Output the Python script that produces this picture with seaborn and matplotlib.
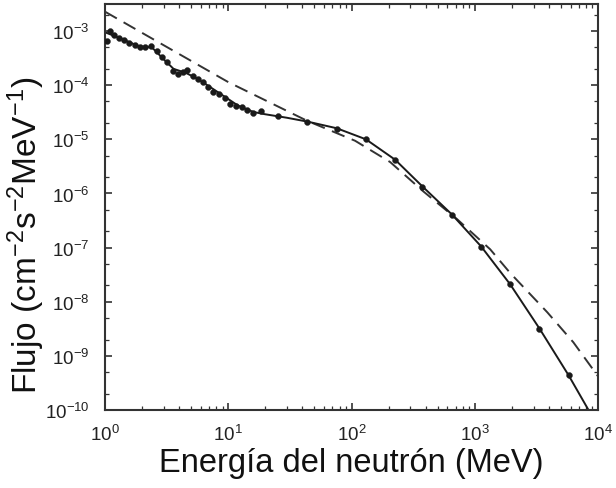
import matplotlib
matplotlib.use("Agg")
import matplotlib.pyplot as plt
import matplotlib.ticker as mticker
import seaborn as sns
import pandas as pd

# --- data ---
dot_E = [1.04, 1.098, 1.183, 1.306, 1.434, 1.575, 1.752, 1.923, 2.112, 2.362,
         2.628, 2.886, 3.204, 3.544, 3.936, 4.32, 4.656, 5.15, 5.72, 6.28,
         6.89, 7.57, 8.47, 9.42, 10.34, 11.57, 12.87, 14.13, 15.99, 18.46,
         25.5, 43.8, 76.0, 131.4, 226, 376, 652, 1127, 1937, 3350, 5766]
dot_F = [6.62e-4, 9.87e-4, 8.43e-4, 7.33e-4, 6.9e-4, 5.93e-4, 5.51e-4, 5.0e-4, 5.0e-4, 5.35e-4,
         4.21e-4, 3.27e-4, 2.64e-4, 1.85e-4, 1.60e-4, 1.72e-4, 1.90e-4, 1.49e-4, 1.30e-4, 1.13e-4,
         9.1e-5, 7.36e-5, 6.84e-5, 5.7e-5, 4.48e-5, 4.06e-5, 3.89e-5, 3.51e-5, 3.05e-5, 3.28e-5,
         2.65e-5, 2.12e-5, 1.58e-5, 1.01e-5, 4.13e-6, 1.32e-6, 4.06e-7, 1.04e-7, 2.1e-8, 3.2e-9, 4.4e-10]

line_E = [1.0, 1.3, 1.9, 2.4, 3.0, 3.6, 4.5, 5.5, 7.0, 9.0, 12.0, 16.0, 20.0, 30.0, 45.0,
          76.0, 131.0, 226.0, 376.0, 652.0, 1127.0, 1937.0, 3350.0, 5766.0, 8375.0]
line_F = [9.5e-4, 7.5e-4, 5.2e-4, 5.0e-4, 3.0e-4, 2.0e-4, 1.7e-4, 1.35e-4, 9.5e-5, 6.5e-5,
          4.2e-5, 3.2e-5, 2.9e-5, 2.5e-5, 2.1e-5, 1.6e-5, 1.0e-5, 4.2e-6, 1.35e-6, 4.1e-7,
          1.05e-7, 2.1e-8, 3.2e-9, 4.4e-10, 1.0e-10]

dash_E = [1.0, 2.79, 10.0, 43.6, 107.0, 206.0, 381.0, 719.0, 1334.0, 1937.0, 3873.0, 6310.0, 10000.0]
dash_F = [2.28e-3, 6.0e-4, 1.14e-4, 2.2e-5, 9.4e-6, 3.8e-6, 1.1e-6, 3.35e-7, 9.3e-8, 3.4e-8,
          6.4e-9, 1.78e-9, 4.2e-10]

x_label = "Energía del neutrón (MeV)"
y_label = r"Flujo (cm$^{-2}$s$^{-2}$MeV$^{-1}$)"

# --- style ---
sns.set_style("ticks")
plt.rcParams["font.family"] = ["Liberation Sans", "DejaVu Sans"]
plt.rcParams["mathtext.fontset"] = "custom"
plt.rcParams["mathtext.rm"] = "Liberation Sans"
plt.rcParams["mathtext.it"] = "Liberation Sans:italic"
plt.rcParams["mathtext.bf"] = "Liberation Sans:bold"

fig = plt.figure(figsize=(6.16, 4.89), dpi=100)
ax = fig.add_axes([105 / 616, 1 - 411 / 489, (598 - 105) / 616, (411 - 5) / 489])

df_dots = pd.DataFrame({"E": dot_E, "F": dot_F})
df_line = pd.DataFrame({"E": line_E, "F": line_F})
df_dash = pd.DataFrame({"E": dash_E, "F": dash_F})

ink = "#1a1a1a"
sns.lineplot(data=df_dash, x="E", y="F", ax=ax, color="#333333", lw=1.4,
             sort=False, estimator=None, dashes=False)
ax.lines[-1].set_dashes([7, 4])
sns.lineplot(data=df_line, x="E", y="F", ax=ax, color=ink, lw=1.4,
             sort=False, estimator=None)
sns.scatterplot(data=df_dots, x="E", y="F", ax=ax, color=ink, s=18,
                edgecolor=ink, linewidth=0.3, zorder=5)

ax.set_xscale("log")
ax.set_yscale("log")
ax.set_xlim(1, 1e4)
ax.set_ylim(1e-10, 3.16e-3)

ax.xaxis.set_major_locator(mticker.LogLocator(base=10, numticks=10))
ax.xaxis.set_minor_locator(mticker.LogLocator(base=10, subs=range(2, 10), numticks=20))
ax.yaxis.set_major_locator(mticker.LogLocator(base=10, numticks=20))
ax.yaxis.set_minor_locator(mticker.LogLocator(base=10, subs=(2, 5), numticks=30))
ax.yaxis.set_minor_formatter(mticker.NullFormatter())
ax.xaxis.set_minor_formatter(mticker.NullFormatter())

ax.tick_params(which="both", direction="in", top=True, right=True,
               color="#333333", labelcolor="#222222", labelsize=13.5)
ax.tick_params(which="major", length=5, width=1.2)
ax.tick_params(axis="y", which="major", pad=11)
ax.tick_params(axis="x", which="major", pad=10)
ax.tick_params(which="minor", length=3, width=0.9)
for s in ax.spines.values():
    s.set_color("#333333")
    s.set_linewidth(1.5)

ax.set_xlabel(x_label, fontsize=23.5, color="#111111")
ax.set_ylabel(y_label, fontsize=24, color="#111111")
ax.xaxis.set_label_coords(0.5, -0.092)
ax.yaxis.set_label_coords(-0.118, 0.433)

fig.savefig("out.png", dpi=100)
